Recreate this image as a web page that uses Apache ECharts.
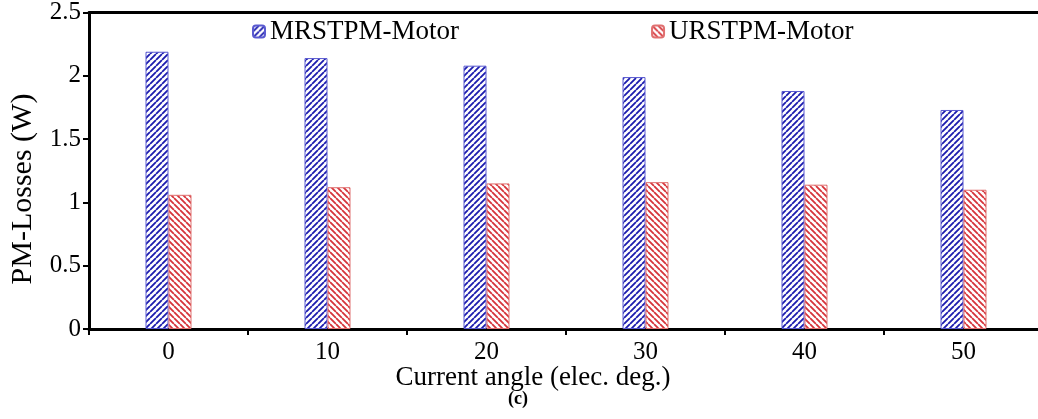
<!DOCTYPE html>
<html><head><meta charset="utf-8">
<script src="https://cdn.jsdelivr.net/npm/echarts@6/dist/echarts.min.js"></script>
<style>html,body{margin:0;padding:0;background:#fff;overflow:hidden}#c{width:1060px;height:419px}</style>
</head><body><div id="c"></div>
<script>
const categories = ['0','10','20','30','40','50'];
const mrstpm = [2.19, 2.14, 2.08, 1.99, 1.88, 1.73];
const urstpm = [1.06, 1.12, 1.15, 1.16, 1.14, 1.10];
const yTicks = [0, 0.5, 1, 1.5, 2, 2.5];

function hatch(color, dir) {
  const s = 6;
  const c = document.createElement('canvas');
  c.width = s; c.height = s;
  const g = c.getContext('2d');
  g.fillStyle = '#fff'; g.fillRect(0,0,s,s);
  g.strokeStyle = color; g.lineWidth = 1.8;
  g.beginPath();
  if (dir > 0) {
    for (let k = -1; k <= 1; k++) { g.moveTo(k*s, s); g.lineTo(k*s + s, 0); }
  } else {
    for (let k = -1; k <= 1; k++) { g.moveTo(k*s, 0); g.lineTo(k*s + s, s); }
  }
  g.stroke();
  return c;
}
const blueC = '#1c1cae', redC = '#d6343a';
const font = 'Liberation Serif';
const chart = echarts.init(document.getElementById('c'));
chart.setOption({
  animation: false,
  textStyle: {fontFamily: font},
  legend: {
    top: 18, left: 252, padding: 0, itemGap: 192, itemWidth: 12, itemHeight: 12,
    textStyle: {fontFamily: font, fontSize: 27, color: '#000'},
    data: ['MRSTPM-Motor', 'URSTPM-Motor']
  },
  grid: {left: 89, top: 8, width: 954, height: 321},
  xAxis: [{
    type: 'category', data: categories, position: 'bottom',
    axisLine: {lineStyle: {color: '#000', width: 3}},
    axisTick: {show: true, length: 6, lineStyle: {color: '#000', width: 2}},
    axisLabel: {fontFamily: font, fontSize: 25, color: '#000', margin: 11}
  }, {
    type: 'category', data: categories, position: 'top',
    axisLine: {lineStyle: {color: '#000', width: 3}},
    axisTick: {show: false}, axisLabel: {show: false}
  }],
  yAxis: {
    type: 'value', min: 0, max: 2.5, interval: 0.5,
    axisLine: {show: true, lineStyle: {color: '#000', width: 3}},
    axisTick: {show: true, length: 6, lineStyle: {color: '#000', width: 2}},
    axisLabel: {fontFamily: font, fontSize: 25, color: '#000', margin: 8,
      formatter: v => yTicks.includes(v) ? String(v) : ''},
    splitLine: {show: false}
  },
  series: [{
    name: 'MRSTPM-Motor', type: 'bar', data: mrstpm, barWidth: 23, barGap: '0%',
    itemStyle: {color: {image: hatch(blueC, 1), repeat: 'repeat'}, borderColor: '#5a5ad0', borderWidth: 1}
  }, {
    name: 'URSTPM-Motor', type: 'bar', data: urstpm, barWidth: 23, barGap: '0%',
    itemStyle: {color: {image: hatch(redC, -1), repeat: 'repeat'}, borderColor: '#e07070', borderWidth: 1}
  }],
  graphic: [{
    type: 'text', x: 533, y: 378,
    style: {text: 'Current angle (elec. deg.)', font: '27px "Liberation Serif"', fill: '#000', align: 'center', verticalAlign: 'middle'}
  }, {
    type: 'text', x: 23, y: 189, rotation: Math.PI / 2,
    style: {text: 'PM-Losses (W)', font: '30px "Liberation Serif"', fill: '#000', align: 'center', verticalAlign: 'middle'}
  }, {
    type: 'text', x: 518, y: 399,
    style: {text: '(c)', font: 'bold 18px "Liberation Serif"', fill: '#000', align: 'center', verticalAlign: 'middle'}
  }]
});
</script></body></html>
